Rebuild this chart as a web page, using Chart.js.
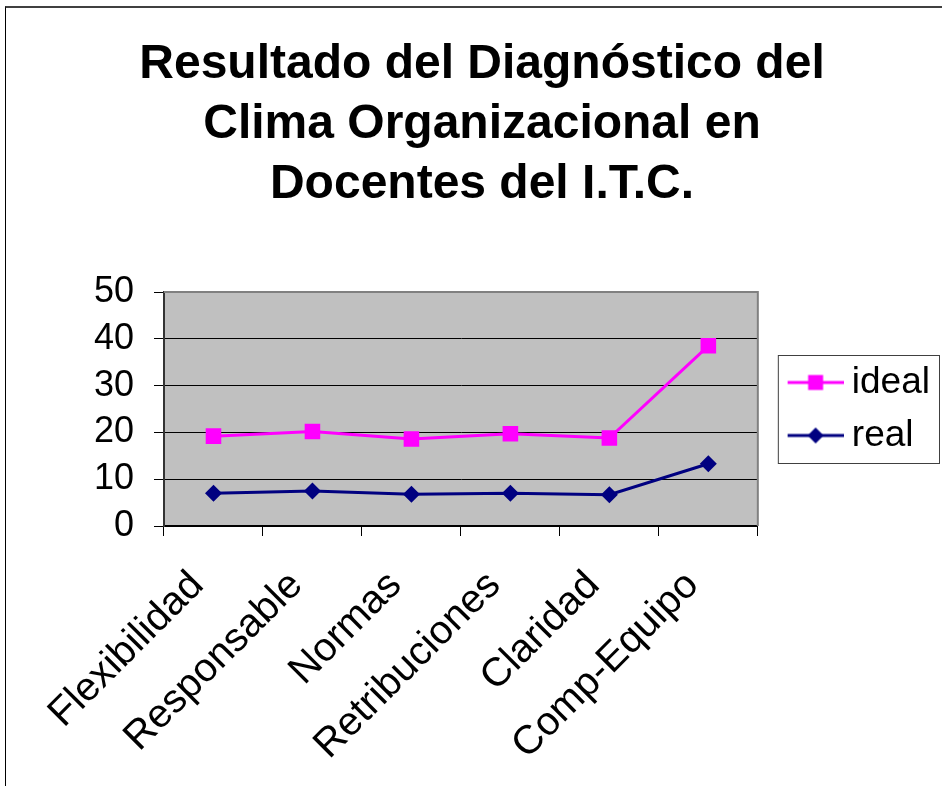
<!DOCTYPE html>
<html>
<head>
<meta charset="utf-8">
<script src="https://cdn.jsdelivr.net/npm/chart.js@4.4.0/dist/chart.umd.min.js"></script>
<style>
    html, body { margin: 0; padding: 0; background: #fff; }
    #wrap { position: relative; width: 942px; height: 786px; overflow: hidden; }
    #frame {
        position: absolute; left: 5px; top: 6px; width: 960px; height: 800px;
        border-top: 2px solid #404040; border-left: 1px solid #000;
        pointer-events: none;
    }
</style>
</head>
<body>
<div id="wrap">
    <canvas id="climaChart" width="942" height="786"></canvas>
    <div id="frame"></div>
</div>
<script>
// Clima organizacional - ideal vs real

const categories = ['Flexibilidad', 'Responsable', 'Normas', 'Retribuciones', 'Claridad', 'Comp-Equipo'];
const idealValues = [19.2, 20.2, 18.6, 19.7, 18.8, 38.5];
const realValues = [7.0, 7.5, 6.8, 7.0, 6.7, 13.3];
const yTicks = [0, 10, 20, 30, 40, 50];

const FONT = "'Liberation Sans', Arial, sans-serif";
const IDEAL_COLOR = '#FF00FF';
const REAL_COLOR = '#000080';

// small line + marker picture for the legend (Excel style)
function legendSymbol(color, shape) {
    const c = document.createElement('canvas');
    c.width = 80;
    c.height = 20;
    const ctx = c.getContext('2d');
    ctx.strokeStyle = color;
    ctx.lineWidth = 3;
    ctx.beginPath();
    ctx.moveTo(24, 10);
    ctx.lineTo(80, 10);
    ctx.stroke();
    ctx.fillStyle = color;
    const cx = 52;
    if (shape === 'square') {
        ctx.fillRect(cx - 7.5, 2.5, 15, 15);
    } else {
        ctx.beginPath();
        ctx.moveTo(cx - 8, 10);
        ctx.lineTo(cx, 2);
        ctx.lineTo(cx + 8, 10);
        ctx.lineTo(cx, 18);
        ctx.closePath();
        ctx.fill();
    }
    return c;
}

const plotBackground = {
    id: 'plotBackground',
    beforeDraw(chart) {
        const { ctx, chartArea: a } = chart;
        ctx.save();
        ctx.fillStyle = '#C0C0C0';
        ctx.fillRect(a.left, a.top, a.right - a.left, a.bottom - a.top);
        ctx.restore();
    },
    beforeDatasetsDraw(chart) {
        const { ctx, chartArea: a } = chart;
        ctx.save();
        ctx.strokeStyle = '#808080';
        ctx.lineWidth = 2;
        ctx.beginPath();
        ctx.moveTo(a.left, a.top);
        ctx.lineTo(a.right, a.top);
        ctx.lineTo(a.right, a.bottom);
        ctx.stroke();
        ctx.restore();
    }
};

const legendFrame = {
    id: 'legendFrame',
    afterDraw(chart) {
        const boxes = chart.legend && chart.legend.legendHitBoxes;
        if (!boxes || !boxes.length) return;
        const { ctx, chartArea } = chart;
        const first = boxes[0], last = boxes[boxes.length - 1];
        const left = chartArea.right + 20;
        const right = chart.legend.right;
        const top = first.top - 9;
        const bottom = last.top + last.height + 9;
        ctx.save();
        ctx.strokeStyle = '#404040';
        ctx.lineWidth = 1;
        ctx.strokeRect(left + 0.5, top + 0.5, right - left - 1, bottom - top);
        ctx.restore();
    }
};

const symbols = [legendSymbol(IDEAL_COLOR, 'square'), legendSymbol(REAL_COLOR, 'diamond')];

new Chart(document.getElementById('climaChart'), {
    type: 'line',
    data: {
        labels: categories,
        datasets: [
            {
                label: 'ideal',
                data: idealValues,
                borderColor: IDEAL_COLOR,
                backgroundColor: IDEAL_COLOR,
                borderWidth: 3,
                tension: 0,
                pointStyle: 'rect',
                pointRadius: 11,
                pointBorderWidth: 0,
                pointBackgroundColor: IDEAL_COLOR
            },
            {
                label: 'real',
                data: realValues,
                borderColor: REAL_COLOR,
                backgroundColor: REAL_COLOR,
                borderWidth: 3,
                tension: 0,
                pointStyle: 'rectRot',
                pointRadius: 8.5,
                pointBorderWidth: 0,
                pointBackgroundColor: REAL_COLOR
            }
        ]
    },
    options: {
        responsive: false,
        animation: false,
        layout: {
            padding: { top: 0, bottom: 0, left: 24, right: 2 }
        },
        plugins: {
            title: {
                display: true,
                text: ['Resultado del Diagnóstico del', 'Clima Organizacional en', 'Docentes del I.T.C.'],
                color: '#000',
                font: { family: FONT, size: 48, weight: 'bold', lineHeight: 1.25 },
                padding: { top: 35, bottom: 77 }
            },
            legend: {
                display: true,
                position: 'right',
                fullSize: false,
                align: 'center',
                labels: {
                    usePointStyle: true,
                    pointStyleWidth: 59.5,
                    color: '#000',
                    padding: 16,
                    font: { family: FONT, size: 37 },
                    generateLabels: function (chart) {
                        return chart.data.datasets.map((ds, i) => ({
                            text: ds.label,
                            datasetIndex: i,
                            pointStyle: symbols[i],
                            fillStyle: 'rgba(0,0,0,0)',
                            strokeStyle: 'rgba(0,0,0,0)',
                            lineWidth: 0,
                            fontColor: '#000'
                        }));
                    }
                }
            },
            tooltip: { enabled: false }
        },
        scales: {
            x: {
                offset: true,
                grid: {
                    offset: true,
                    drawOnChartArea: false,
                    drawTicks: true,
                    tickLength: 10,
                    color: '#000'
                },
                border: { color: '#000', width: 2 },
                ticks: {
                    color: '#000',
                    font: { family: FONT, size: 40 },
                    minRotation: 45,
                    maxRotation: 45,
                    autoSkip: false,
                    padding: 26,
                    labelOffset: -16
                },
                afterFit: function (scale) { scale.height = 260; }
            },
            y: {
                min: 0,
                max: 50,
                afterBuildTicks: function (scale) {
                    scale.ticks = yTicks.map(v => ({ value: v }));
                },
                grid: { color: '#000', lineWidth: 1, tickLength: 10 },
                border: { color: '#333', width: 2 },
                ticks: {
                    color: '#000',
                    font: { family: FONT, size: 36 },
                    padding: 20
                },
                afterFit: function (scale) { scale.width = 140; }
            }
        }
    },
    plugins: [plotBackground, legendFrame]
});
</script>
</body>
</html>
